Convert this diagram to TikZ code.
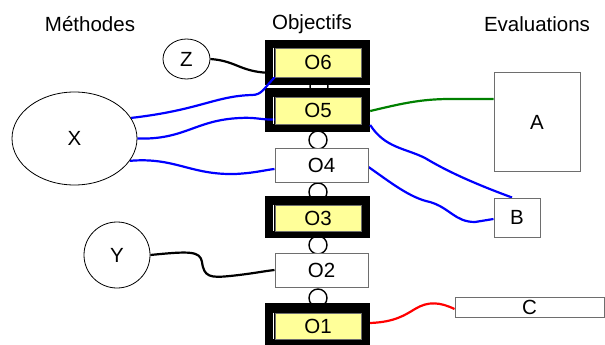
\documentclass[tikz,border=0pt]{standalone}
\usepackage{fontspec}
\setmainfont{Liberation Sans}
\usetikzlibrary{shapes.geometric}
\pgfdeclarelayer{back}
\pgfdeclarelayer{mid}
\pgfsetlayers{back,mid,main}
\definecolor{objyellow}{RGB}{255,255,153}
\definecolor{boxgray}{RGB}{110,110,110}
\tikzset{
  lbl/.style={font=\fontsize{20.5}{24}\selectfont, inner sep=0pt},
  frame/.style={fill=black, draw=none, inner sep=0pt, minimum width=105pt},
  objin/.style={lbl, fill=objyellow, draw=boxgray, line width=0.6pt,
                minimum width=86pt},
  objplain/.style={lbl, fill=white, draw=boxgray, line width=1pt,
                   minimum width=93pt, minimum height=34pt},
  ring/.style={circle, draw=black, fill=white, line width=1.4pt,
               minimum size=18pt, inner sep=0pt},
  evalbox/.style={lbl, fill=white, draw=boxgray, line width=1pt},
  meth/.style={lbl, draw=black, line width=0.8pt, fill=white},
  link/.style={line width=2.2pt},
  sliver/.style={white, line width=0.8pt}
}
\begin{document}
\begin{tikzpicture}[x=1pt, y=-1pt]
\useasboundingbox (0,0) rectangle (605,345);

% column headings
\node[lbl] (hm) at (90,24) {Méthodes};
\node[lbl] (ho) at (312,24) {Objectifs};
\node[lbl] (he) at (537,24) {Evaluations};

% rings chaining the objectives
\begin{pgfonlayer}{back}
\node[ring] (r65) at (319,86.5) {};
\node[ring] (r54) at (318,140) {};
\node[ring] (r43) at (318,192) {};
\node[ring] (r32) at (318,245) {};
\node[ring] (r21) at (318,298) {};
% black frames of the highlighted objectives
\node[frame, minimum height=45pt] (o6f) at (317.5,62.5) {};
\node[frame, minimum height=44pt] (o5f) at (317.5,110) {};
\node[frame, minimum height=42pt] (o3f) at (317.5,217) {};
\node[frame, minimum height=42pt] (o1f) at (317.5,324) {};
\end{pgfonlayer}

% objectives
\node[objin, minimum height=29pt] (o6) at (318,62.5) {O6};
\node[objin, minimum height=27pt] (o5) at (318,110.5) {O5};
\node[objplain] (o4) at (321.5,165) {O4};
\node[objin, minimum height=26pt] (o3) at (318,218) {O3};
\node[objplain] (o2) at (321.5,270) {O2};
\node[objin, minimum height=26pt] (o1) at (318,326) {O1};
\foreach \o in {o6,o5,o3,o1}
  \draw[sliver] ([xshift=-1.5pt]\o.north west) -- ([xshift=-1.5pt]\o.south west);

% methods
\node[meth, ellipse, minimum width=47pt, minimum height=40pt] (z) at (186.5,59) {Z};
\node[meth, ellipse, minimum width=125pt, minimum height=93pt] (x) at (74.5,138.5) {X};
\node[meth, circle, minimum size=66pt] (y) at (117,255) {Y};

% evaluations
\node[evalbox, minimum width=86pt, minimum height=98pt] (a) at (537,122) {A};
\node[evalbox, minimum width=46pt, minimum height=39pt] (b) at (517,217.5) {B};
\node[evalbox, minimum width=149pt, minimum height=20pt] (c) at (529.5,307) {C};

% connectors
\begin{pgfonlayer}{mid}
\draw[link, black] (z.east) .. controls (238,61) and (240,73) .. ([yshift=-10.5pt]o6.west);
\draw[link, blue] (x.20) .. controls (200,110) and (215,96) .. (252,95)
  .. controls (262,95) and (264,88) .. (o6.south west);
\draw[link, blue] (x.east) .. controls (185,140) and (195,120) .. (240,118)
  .. controls (255,117) and (262,120) .. ([yshift=-9pt]o5.west);
\draw[link, blue] (x.-22) .. controls (175,157) and (190,175) .. (235,174)
  .. controls (255,173) and (265,170) .. ([yshift=-4pt]o4.west);
\draw[link, black] (y.east) .. controls (190,251) and (200,251) .. (202,262)
  .. controls (204,277) and (210,278) .. (230,276)
  .. controls (250,274) and (265,271) .. (o2.west);
\draw[link, black!50!green] ([yshift=-1pt]o5f.east) .. controls (400,104) and (420,99) .. (450,99)
  -- ([yshift=23pt]a.west);
\draw[link, blue] ([yshift=-15pt]o5f.east) .. controls (385,148) and (405,148) .. (425,158)
  .. controls (445,170) and (470,182) .. ([xshift=-5pt]b.north);
\draw[link, blue] ([yshift=-2pt]o4.east) .. controls (390,182) and (410,198) .. (430,202)
  .. controls (450,208) and (455,222) .. (475,222) -- ([yshift=-1.5pt]b.west);
\draw[link, red] ([yshift=1pt]o1f.east) .. controls (395,322) and (405,315) .. (415,309)
  .. controls (428,301) and (440,302) .. ([yshift=-2pt]c.west);
\end{pgfonlayer}
\end{tikzpicture}
\end{document}
